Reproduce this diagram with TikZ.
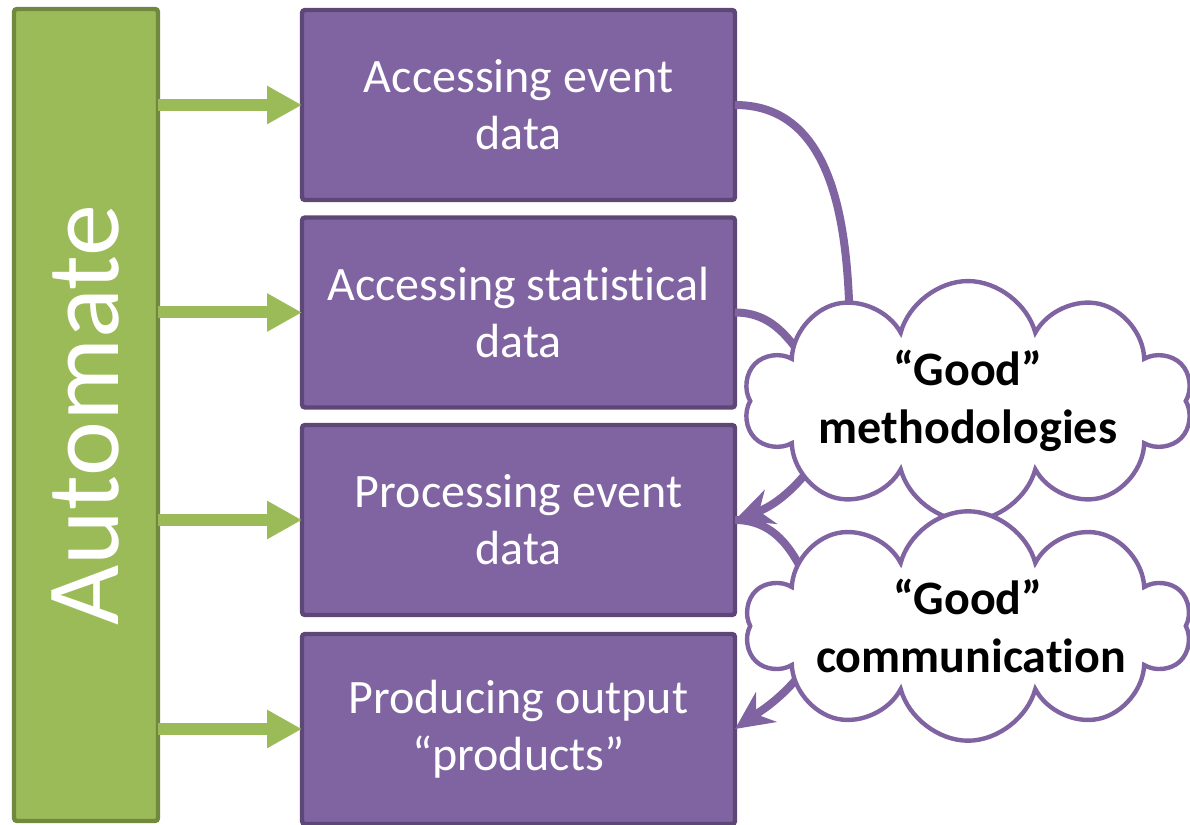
\documentclass[tikz,border=0pt]{standalone}
\usepackage{fontspec}
\setmainfont{Carlito}[Ligatures=NoCommon]
\usepackage{tikz}
\usetikzlibrary{shapes.symbols,arrows.meta}
\definecolor{purp}{HTML}{8064A2}
\definecolor{purpdark}{HTML}{5C4776}
\definecolor{grn}{HTML}{9BBB59}
\definecolor{grndark}{HTML}{71893F}

\begin{document}
\begin{tikzpicture}
  [x=0.5pt,y=0.5pt,
  autobox/.style={rectangle,draw=grndark,fill=grn,line width=2.2pt,rounded corners=1.5pt,
                  minimum width=406pt,minimum height=72pt,outer sep=0,text=white,
                  font=\fontsize{52}{60}\selectfont},
  taskbox/.style={rectangle,draw=purpdark,fill=purp,line width=2.2pt,rounded corners=1.5pt,
                  minimum width=216.5pt,minimum height=95pt,outer sep=0,text=white,
                  align=center,font=\fontsize{24}{28.5}\selectfont},
  goodcloud/.style={cloud,cloud puffs=10,cloud ignores aspect,draw=purp,fill=white,
                  line width=2.2pt,inner xsep=1pt,inner ysep=0pt,text width=152pt,align=center,
                  font=\bfseries\fontsize{24}{29}\selectfont},
  feed/.style={draw=grn,line width=6pt,-{Triangle[length=17.5pt,width=18pt]}},
  flow/.style={draw=purp,line width=4pt},
  flowhead/.style={flow,-{Stealth[length=19pt,width=18pt]}}
                  ]
  \useasboundingbox (0,0) rectangle (1190,825);
  \clip (0,0) rectangle (1190,825);

  \node[autobox,rotate=90] (auto) at (86,410) {Automate};
  \node[taskbox] (access) at (518.5,720) {Accessing event\\data};
  \node[taskbox] (stats) at (518.5,512.5) {Accessing statistical\\data};
  \node[taskbox] (proc) at (518.5,305) {Processing event\\data};
  \node[taskbox] (prod) at (518.5,96) {Producing output\\“products”};
  \coordinate (m1) at (850,470);
  \coordinate (m2) at (830,430);
  \coordinate (m3) at (820,370);
  \coordinate (m4) at (820,210);
  \coordinate (m5) at (800,150);

  \draw[feed] (auto.south |- access.west) to (access.west);
  \draw[feed] (auto.south |- stats.west) to (stats.west);
  \draw[feed] (auto.south |- proc.west) to (proc.west);
  \draw[feed] (auto.south |- prod.west) to (prod.west);

  \draw[flow] (access.east) to [out=0,in=90] (m1);
  \draw[flow] (stats.east) to [out=0,in=130] (m2);
  \draw[flowhead] (m3) to [out=235,in=20] (proc.east);
  \draw[flow] (proc.east) to [out=0,in=110] (m4);
  \draw[flowhead] (m5) to [out=230,in=35] (prod.east);

  \node[goodcloud] (meth) at (968,424) {“Good”\\methodologies};
  \node[goodcloud] (comm) at (968,199) {“Good”\\communication};
\end{tikzpicture}
\end{document}
